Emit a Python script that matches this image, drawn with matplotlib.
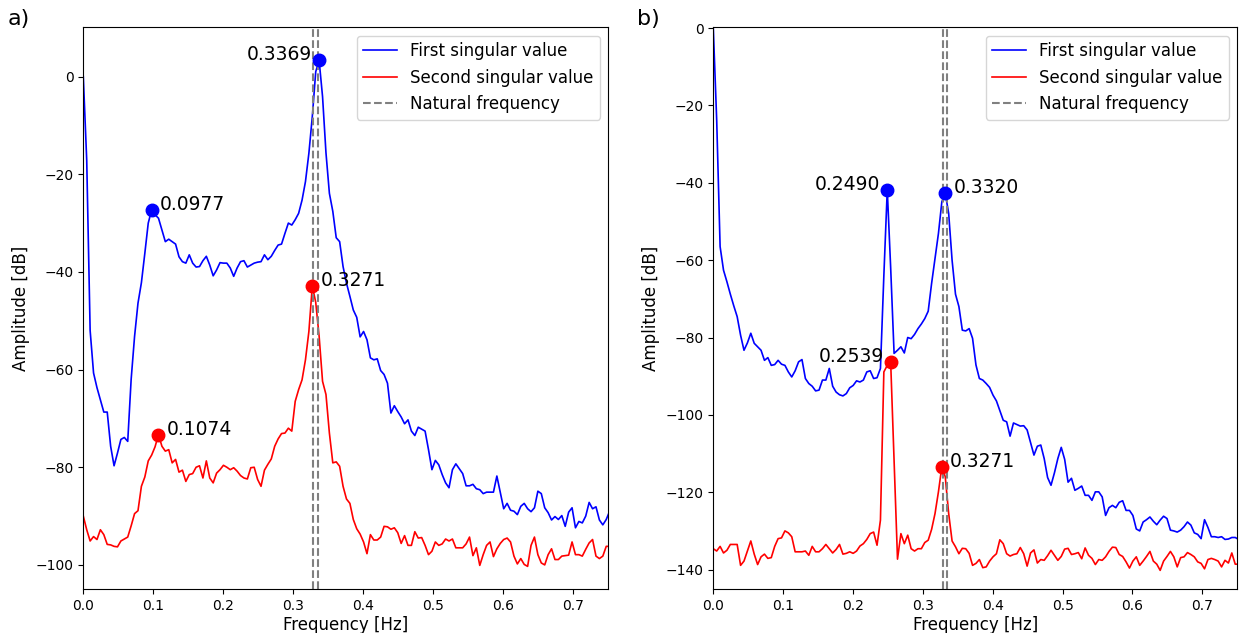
import numpy as np
import matplotlib
matplotlib.use('Agg')
import matplotlib.pyplot as plt

# ── Data ─────────────────────────────────────────────────────
df_hz = 1 / 204.8          # frequency resolution [Hz]

# a) first / second singular value [dB]
sv1_a = [0.0, -17.1, -52.0, -60.7, -63.7, -66.2, -68.7, -68.7, -75.7, -79.7,
         -77.1, -74.3, -73.9, -74.7, -62.0, -53.2, -46.4, -42.2, -36.2, -30.0,
         -27.3, -28.3, -29.0, -31.4, -33.8, -33.3, -33.8, -34.3, -36.9, -37.9,
         -38.2, -36.5, -38.2, -39.0, -38.9, -37.7, -36.8, -38.6, -40.8, -39.6,
         -38.1, -38.2, -38.2, -39.2, -40.9, -39.2, -37.9, -37.7, -39.0, -38.6,
         -38.2, -38.0, -37.9, -36.5, -37.5, -36.8, -35.6, -34.5, -34.3, -32.1,
         -30.0, -30.4, -29.3, -28.0, -25.3, -21.5, -15.7, -8.2, 1.0, 3.3,
         -4.1, -15.6, -23.9, -27.6, -33.0, -33.8, -38.9, -42.3, -45.0, -47.8,
         -49.3, -53.3, -52.2, -53.9, -57.6, -58.0, -57.8, -60.2, -61.0, -62.8,
         -68.9, -67.4, -68.6, -69.7, -71.1, -70.3, -72.6, -73.5, -71.8, -72.2,
         -72.6, -76.4, -80.5, -78.6, -79.5, -81.5, -83.2, -84.2, -80.5, -79.3,
         -80.3, -81.3, -83.8, -83.8, -83.5, -84.4, -84.6, -85.4, -85.1, -85.1,
         -85.1, -81.8, -85.1, -88.5, -87.4, -88.8, -89.0, -89.7, -88.0, -87.4,
         -88.5, -89.1, -88.3, -84.9, -85.4, -88.3, -89.3, -90.8, -90.1, -90.7,
         -89.9, -92.1, -89.2, -88.3, -92.4, -91.1, -91.4, -90.0, -87.2, -88.5,
         -88.1, -90.8, -91.8, -90.7, -89.0]
sv2_a = [-90.0, -92.8, -95.1, -94.2, -94.8, -92.8, -93.8, -95.8, -95.9, -96.2,
         -96.3, -95.1, -94.7, -94.3, -92.0, -89.5, -88.9, -83.9, -82.0, -78.7,
         -77.5, -75.8, -73.3, -75.7, -76.7, -76.4, -79.1, -78.4, -81.0, -80.6,
         -82.9, -81.5, -81.3, -80.0, -79.7, -82.2, -78.7, -82.2, -83.2, -81.2,
         -80.5, -79.6, -80.0, -80.5, -80.1, -80.8, -81.7, -82.2, -82.4, -80.1,
         -80.0, -82.5, -83.9, -80.6, -79.4, -78.3, -75.7, -74.2, -73.1, -73.0,
         -72.0, -72.6, -66.5, -64.1, -62.1, -58.0, -52.2, -42.9, -46.2, -53.2,
         -62.4, -65.1, -73.0, -79.1, -78.9, -79.8, -83.9, -86.5, -87.4, -90.7,
         -92.6, -93.7, -95.3, -97.7, -93.8, -94.9, -94.9, -94.3, -92.1, -92.2,
         -92.7, -92.4, -93.4, -95.6, -94.0, -96.0, -96.0, -93.2, -94.5, -94.4,
         -96.0, -97.9, -97.2, -95.3, -96.0, -95.7, -94.7, -95.1, -94.7, -96.5,
         -96.5, -96.5, -95.7, -94.3, -98.1, -96.5, -100.1, -97.9, -96.0, -95.3,
         -98.3, -96.7, -95.6, -94.8, -94.5, -95.3, -98.2, -99.8, -98.7, -99.9,
         -100.3, -96.0, -94.3, -97.9, -99.6, -100.0, -97.9, -96.7, -98.9, -98.9,
         -98.2, -98.1, -98.0, -95.3, -97.9, -97.9, -98.2, -96.8, -95.5, -94.8,
         -98.2, -98.7, -98.2, -96.2, -96.2]

# b) first / second singular value [dB]
sv1_b = [0.0, -23.8, -56.5, -62.6, -65.6, -68.8, -71.8, -74.6, -79.4, -83.3,
         -81.4, -78.9, -81.5, -82.4, -83.3, -85.9, -85.2, -87.2, -87.0, -85.9,
         -86.9, -87.2, -88.9, -90.2, -88.6, -86.3, -85.7, -90.6, -91.9, -92.6,
         -93.8, -93.6, -91.0, -91.0, -88.0, -92.6, -94.1, -94.8, -95.1, -94.5,
         -93.0, -92.4, -91.2, -91.5, -91.0, -88.9, -88.6, -90.6, -90.4, -88.0,
         -64.0, -41.8, -62.0, -84.1, -83.3, -82.4, -84.0, -80.0, -80.3, -79.2,
         -77.7, -76.5, -75.1, -73.2, -66.0, -59.5, -53.1, -44.9, -42.7, -47.9,
         -60.0, -68.8, -72.0, -78.1, -78.3, -77.7, -80.2, -87.1, -90.6, -91.0,
         -91.9, -92.9, -94.9, -96.4, -98.9, -101.4, -101.8, -105.5, -102.1, -102.5,
         -102.9, -102.8, -103.9, -107.2, -110.4, -108.1, -107.8, -111.3, -116.2, -118.2,
         -115.0, -111.3, -108.4, -111.5, -117.4, -116.4, -119.5, -119.0, -118.4, -120.8,
         -120.8, -122.1, -119.9, -119.9, -121.2, -126.0, -124.0, -123.4, -124.0, -122.6,
         -122.2, -124.7, -124.7, -126.0, -129.5, -130.0, -127.7, -127.1, -126.4, -127.5,
         -128.4, -127.2, -126.2, -126.8, -129.8, -130.0, -130.3, -129.8, -128.9, -127.7,
         -128.5, -130.5, -130.9, -132.0, -127.1, -129.1, -131.5, -131.5, -131.7, -131.5,
         -132.2, -132.1, -131.7, -131.7, -132.2]
sv2_b = [-134.6, -135.2, -134.0, -135.7, -135.0, -133.5, -133.5, -133.5, -138.9, -137.8,
         -135.2, -132.6, -136.0, -138.7, -136.7, -136.0, -137.1, -136.9, -134.0, -132.0,
         -131.8, -130.0, -130.5, -131.5, -135.4, -135.4, -135.4, -135.2, -136.3, -134.0,
         -135.4, -135.4, -134.6, -133.5, -134.6, -135.7, -134.8, -133.5, -136.0, -135.8,
         -135.4, -135.8, -135.2, -133.9, -133.3, -132.2, -130.7, -130.3, -133.7, -127.2,
         -88.9, -87.2, -86.4, -112.0, -137.3, -130.7, -133.3, -131.1, -134.6, -135.2,
         -134.6, -134.6, -133.0, -132.4, -129.6, -125.5, -119.9, -113.4, -116.0, -125.5,
         -132.6, -134.1, -135.9, -134.5, -134.6, -135.8, -138.9, -138.4, -137.4, -139.5,
         -139.3, -137.8, -136.7, -135.9, -132.3, -133.3, -135.9, -136.5, -136.1, -135.9,
         -134.3, -135.9, -139.1, -135.7, -134.9, -138.3, -137.4, -137.6, -136.4, -135.0,
         -136.3, -137.6, -136.6, -134.7, -134.5, -136.1, -135.9, -135.6, -137.2, -134.4,
         -136.3, -137.1, -138.7, -137.4, -137.6, -136.7, -135.3, -134.2, -134.3, -136.1,
         -136.6, -138.0, -139.6, -137.8, -136.7, -138.9, -137.8, -136.6, -135.3, -137.8,
         -138.6, -140.2, -137.8, -136.6, -135.3, -136.7, -139.3, -136.9, -136.7, -135.6,
         -136.1, -136.7, -138.0, -138.4, -139.8, -137.4, -137.1, -137.4, -137.8, -139.3,
         -137.6, -138.3, -135.7, -138.6, -138.6]

natural_freqs = [0.3283, 0.3350]

# picked peaks: (series index 0/1, bin index, label side)
peaks_a = [(0, 20, 'right'), (0, 69, 'left'), (1, 22, 'right'), (1, 67, 'right')]
peaks_b = [(0, 51, 'left'), (0, 68, 'right'), (1, 52, 'left'), (1, 67, 'right')]

freq = np.arange(len(sv1_a)) * df_hz

# ── Figure ───────────────────────────────────────────────────
fig = plt.figure(figsize=(12.47, 6.33), dpi=100)
ax_a = fig.add_axes([0.0668, 0.0690, 0.4210, 0.8879])
ax_b = fig.add_axes([0.5720, 0.0690, 0.4202, 0.8879])

colors = ['blue', 'red']


def draw_panel(ax, sv1, sv2, peaks, ylim):
    ax.plot(freq, sv1, color=colors[0], lw=1.2, label='First singular value')
    ax.plot(freq, sv2, color=colors[1], lw=1.2, label='Second singular value')
    for i, fn in enumerate(natural_freqs):
        ax.axvline(fn, color='gray', ls='--', lw=1.5,
                   label='Natural frequency' if i == 0 else None)
    series = [sv1, sv2]
    for s, k, side in peaks:
        f, v = freq[k], series[s][k]
        ax.plot(f, v, 'o', color=colors[s], ms=9, zorder=5)
        dx = 6 if side == 'right' else -5
        ax.annotate(f'{f:.4f}', (f, v), xytext=(dx, 0), textcoords='offset points',
                    ha='left' if side == 'right' else 'right', va='baseline',
                    fontsize=13.5)
    ax.set_xlim(0, 0.75)
    ax.set_ylim(*ylim)
    ax.set_xlabel('Frequency [Hz]', fontsize=12, labelpad=2)
    ax.set_ylabel('Amplitude [dB]', fontsize=12)
    ax.tick_params(labelsize=10)
    ax.legend(loc='upper right', fontsize=12)


draw_panel(ax_a, sv1_a, sv2_a, peaks_a, (-105.0, 10.1))
draw_panel(ax_b, sv1_b, sv2_b, peaks_b, (-145.1, 0.2))

fig.text(0.006, 0.985, 'a)', fontsize=16, va='top')
fig.text(0.511, 0.985, 'b)', fontsize=16, va='top')

fig.savefig('out.png', dpi=100)
